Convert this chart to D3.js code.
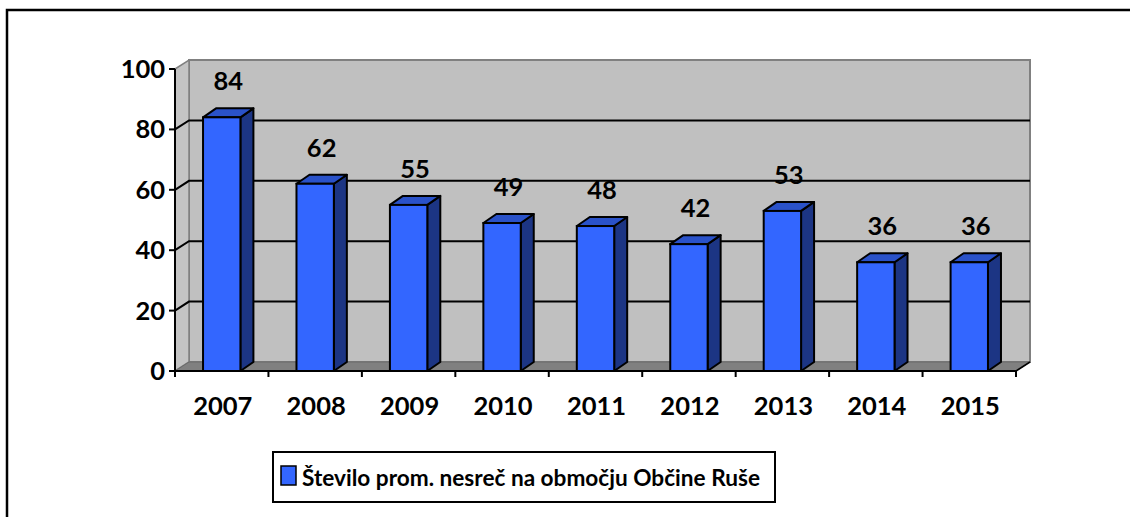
<!DOCTYPE html>
<html lang="sl">
<head>
<meta charset="UTF-8">
<title>Število prom. nesreč na območju Občine Ruše</title>
<script src="https://d3js.org/d3.v7.min.js"></script>
<style>
    body { margin: 0; background: #fff; }
    svg text { font-family: Lato, "Open Sans", sans-serif; font-weight: bold; fill: #000; }
</style>
</head>
<body>
<div id="chart"></div>
<script>
// chart data
const years = ["2007", "2008", "2009", "2010", "2011", "2012", "2013", "2014", "2015"];
const accidents = [84, 62, 55, 49, 48, 42, 53, 36, 36];
const yTicks = [0, 20, 40, 60, 80, 100];
const seriesName = "Število prom. nesreč na območju Občine Ruše";

const W = 1130, H = 517;
const plotLeft = 175, plotRight = 1016, plotTop = 69, plotBottom = 371;
const wallDx = 14, wallDy = -9;   // 3D depth of walls / floor
const barDx = 13, barDy = -9;     // 3D depth of the columns

const svg = d3.select("#chart").append("svg")
    .attr("width", W).attr("height", H);

svg.append("rect").attr("width", W).attr("height", H).attr("fill", "#fff");

// outer chart border (runs off the right and bottom of the picture)
svg.append("rect")
    .attr("x", 7).attr("y", 10).attr("width", W).attr("height", H)
    .attr("fill", "none").attr("stroke", "#000").attr("stroke-width", 2.5);

const x = d3.scaleBand().domain(years).range([plotLeft, plotRight])
    .paddingInner(0.6).paddingOuter(0.3);
const y = d3.scaleLinear().domain([0, 100]).range([plotBottom, plotTop]);

// back wall
svg.append("rect")
    .attr("x", plotLeft + wallDx).attr("y", y(100) + wallDy)
    .attr("width", plotRight - plotLeft).attr("height", y(0) - y(100))
    .attr("fill", "#c0c0c0").attr("stroke", "#808080").attr("stroke-width", 2);

// side wall
svg.append("path")
    .attr("d", `M${plotLeft},${y(100)}L${plotLeft + wallDx},${y(100) + wallDy}L${plotLeft + wallDx},${y(0) + wallDy}L${plotLeft},${y(0)}Z`)
    .attr("fill", "#c4c4c4").attr("stroke", "#808080").attr("stroke-width", 1.5);

// gridlines on back wall and side wall
const grid = yTicks.filter(v => v > 0 && v < 100);
svg.append("g").selectAll("path").data(grid).join("path")
    .attr("d", v => `M${plotLeft},${y(v)}L${plotLeft + wallDx},${y(v) + wallDy}L${plotRight + wallDx},${y(v) + wallDy}`)
    .attr("fill", "none").attr("stroke", "#000").attr("stroke-width", 2);

// floor
svg.append("path")
    .attr("d", `M${plotLeft},${y(0)}L${plotLeft + wallDx},${y(0) + wallDy}L${plotRight + wallDx},${y(0) + wallDy}L${plotRight},${y(0)}Z`)
    .attr("fill", "#808080").attr("stroke", "#6a6a6a").attr("stroke-width", 1);

// y axis
const yAxis = svg.append("g");
yAxis.append("line")
    .attr("x1", plotLeft).attr("x2", plotLeft).attr("y1", y(100)).attr("y2", y(0))
    .attr("stroke", "#000").attr("stroke-width", 2);
yAxis.selectAll(".tick").data(yTicks).join("line")
    .attr("x1", plotLeft - 6).attr("x2", plotLeft).attr("y1", d => y(d)).attr("y2", d => y(d))
    .attr("stroke", "#000").attr("stroke-width", 2);
yAxis.selectAll("text").data(yTicks).join("text")
    .attr("x", plotLeft - 10).attr("y", d => y(d) + 9)
    .attr("text-anchor", "end").attr("font-size", 25.5)
    .text(d => d);

// x axis
const step = x.step();
const gap = step * x.paddingInner() / 2;
const bounds = years.map(d => x(d) - gap).concat([x(years[years.length - 1]) + x.bandwidth() + gap]);
const xAxis = svg.append("g");
xAxis.append("line")
    .attr("x1", plotLeft).attr("x2", plotRight).attr("y1", y(0)).attr("y2", y(0))
    .attr("stroke", "#000").attr("stroke-width", 2);
xAxis.append("line")
    .attr("x1", plotRight).attr("x2", plotRight + wallDx).attr("y1", y(0)).attr("y2", y(0) + wallDy)
    .attr("stroke", "#000").attr("stroke-width", 1.5);
xAxis.selectAll(".tick").data(bounds).join("line")
    .attr("x1", d => d).attr("x2", d => d).attr("y1", y(0)).attr("y2", y(0) + 6)
    .attr("stroke", "#000").attr("stroke-width", 2);
xAxis.selectAll("text").data(years).join("text")
    .attr("x", d => x(d) + x.bandwidth() / 2 + 1).attr("y", 415)
    .attr("text-anchor", "middle").attr("font-size", 25.5)
    .text(d => d);

// columns
const data = years.map((d, i) => ({ year: d, value: accidents[i] }));
const bars = svg.append("g").selectAll("g").data(data).join("g");
const x0 = d => x(d.year), x1 = d => x(d.year) + x.bandwidth();

bars.append("path") // side
    .attr("d", d => `M${x1(d)},${y(d.value)}L${x1(d) + barDx},${y(d.value) + barDy}L${x1(d) + barDx},${y(0) + barDy}L${x1(d)},${y(0)}Z`)
    .attr("fill", "#1c3584").attr("stroke", "#000").attr("stroke-width", 2).attr("stroke-linejoin", "round");
bars.append("path") // top
    .attr("d", d => `M${x0(d)},${y(d.value)}L${x0(d) + barDx},${y(d.value) + barDy}L${x1(d) + barDx},${y(d.value) + barDy}L${x1(d)},${y(d.value)}Z`)
    .attr("fill", "#2a52c9").attr("stroke", "#000").attr("stroke-width", 2).attr("stroke-linejoin", "round");
bars.append("rect") // front
    .attr("x", x0).attr("y", d => y(d.value))
    .attr("width", x.bandwidth()).attr("height", d => y(0) - y(d.value))
    .attr("fill", "#3366ff").attr("stroke", "#000").attr("stroke-width", 2);

// data labels
bars.append("text")
    .attr("x", d => x0(d) + (x.bandwidth() + barDx) / 2)
    .attr("y", d => y(d.value) + barDy - 18)
    .attr("text-anchor", "middle").attr("font-size", 25.5)
    .text(d => d.value);

// legend
const legend = svg.append("g");
legend.append("rect")
    .attr("x", 273).attr("y", 452).attr("width", 502).attr("height", 50)
    .attr("fill", "#fff").attr("stroke", "#000").attr("stroke-width", 2);
legend.append("rect")
    .attr("x", 281).attr("y", 466).attr("width", 15).attr("height", 19)
    .attr("fill", "#3366ff").attr("stroke", "#000").attr("stroke-width", 1.5);
legend.append("text")
    .attr("x", 302).attr("y", 486).attr("font-size", 23)
    .attr("textLength", 458).attr("lengthAdjust", "spacingAndGlyphs")
    .text(seriesName);
</script>
</body>
</html>
